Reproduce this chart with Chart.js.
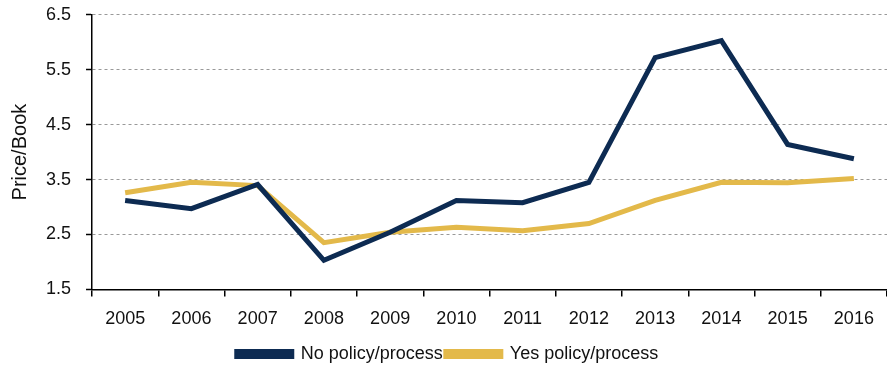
<!DOCTYPE html>
<html>
<head>
<meta charset="utf-8">
<script src="https://cdn.jsdelivr.net/npm/chart.js@4.4.0/dist/chart.umd.min.js"></script>
<style>
  html, body { margin: 0; padding: 0; background: #fff; }
  #wrap { width: 887px; height: 373px; }
</style>
</head>
<body>
<div id="wrap"><canvas id="pbChart"></canvas></div>
<script>
const years = ['2005', '2006', '2007', '2008', '2009', '2010', '2011', '2012', '2013', '2014', '2015', '2016'];
const noPolicy = [3.12, 2.97, 3.41, 2.03, 2.54, 3.12, 3.08, 3.45, 5.72, 6.03, 4.14, 3.88];
const yesPolicy = [3.26, 3.45, 3.39, 2.35, 2.54, 2.63, 2.57, 2.70, 3.12, 3.45, 3.44, 3.52];
const yTicks = [1.5, 2.5, 3.5, 4.5, 5.5, 6.5];

const fontFamily = "'Liberation Sans Narrow', 'Arial Narrow', 'Liberation Sans', sans-serif";

Chart.defaults.font.family = fontFamily;
Chart.defaults.color = '#111';

new Chart(document.getElementById('pbChart'), {
    type: 'line',
    data: {
        labels: years,
        datasets: [
            {
                label: 'No policy/process',
                data: noPolicy,
                borderColor: '#0d2b52',
                backgroundColor: '#0d2b52',
                borderWidth: 5,
                pointRadius: 0,
                tension: 0
            },
            {
                label: 'Yes policy/process',
                data: yesPolicy,
                borderColor: '#e3b94a',
                backgroundColor: '#e3b94a',
                borderWidth: 5,
                pointRadius: 0,
                tension: 0
            }
        ]
    },
    options: {
        responsive: true,
        maintainAspectRatio: false,
        animation: false,
        layout: { padding: { top: 0, right: 0, left: 8, bottom: 0 } },
        plugins: {
            tooltip: { enabled: false },
            legend: {
                position: 'bottom',
                labels: {
                    boxWidth: 55,
                    boxHeight: 5,
                    padding: 3,
                    font: { size: 18 },
                    color: '#111'
                }
            }
        },
        scales: {
            x: {
                offset: true,
                grid: {
                    offset: true,
                    drawOnChartArea: false,
                    color: '#000',
                    tickLength: 7,
                    lineWidth: 1.5
                },
                border: { color: '#000', width: 1.5 },
                ticks: { font: { size: 18 }, color: '#111', padding: 12 }
            },
            y: {
                min: 1.5,
                max: 6.5,
                afterBuildTicks: axis => {
                    axis.ticks = yTicks.map(v => ({ value: v }));
                },
                grid: {
                    color: '#999',
                    tickColor: '#000',
                    // long tick area for label spacing, only the inner 6px is drawn
                    tickLength: 17,
                    tickBorderDash: [0, 11, 6, 1000],
                    tickWidth: 1.5
                },
                border: { color: '#000', width: 1.5, dash: [3, 3] },
                ticks: {
                    font: { size: 18 },
                    color: '#111',
                    padding: 4,
                    callback: v => v.toFixed(1)
                },
                title: {
                    display: true,
                    text: 'Price/Book',
                    font: { size: 20 },
                    color: '#111',
                    padding: { top: 0, bottom: 10 }
                }
            }
        }
    }
});
</script>
</body>
</html>
